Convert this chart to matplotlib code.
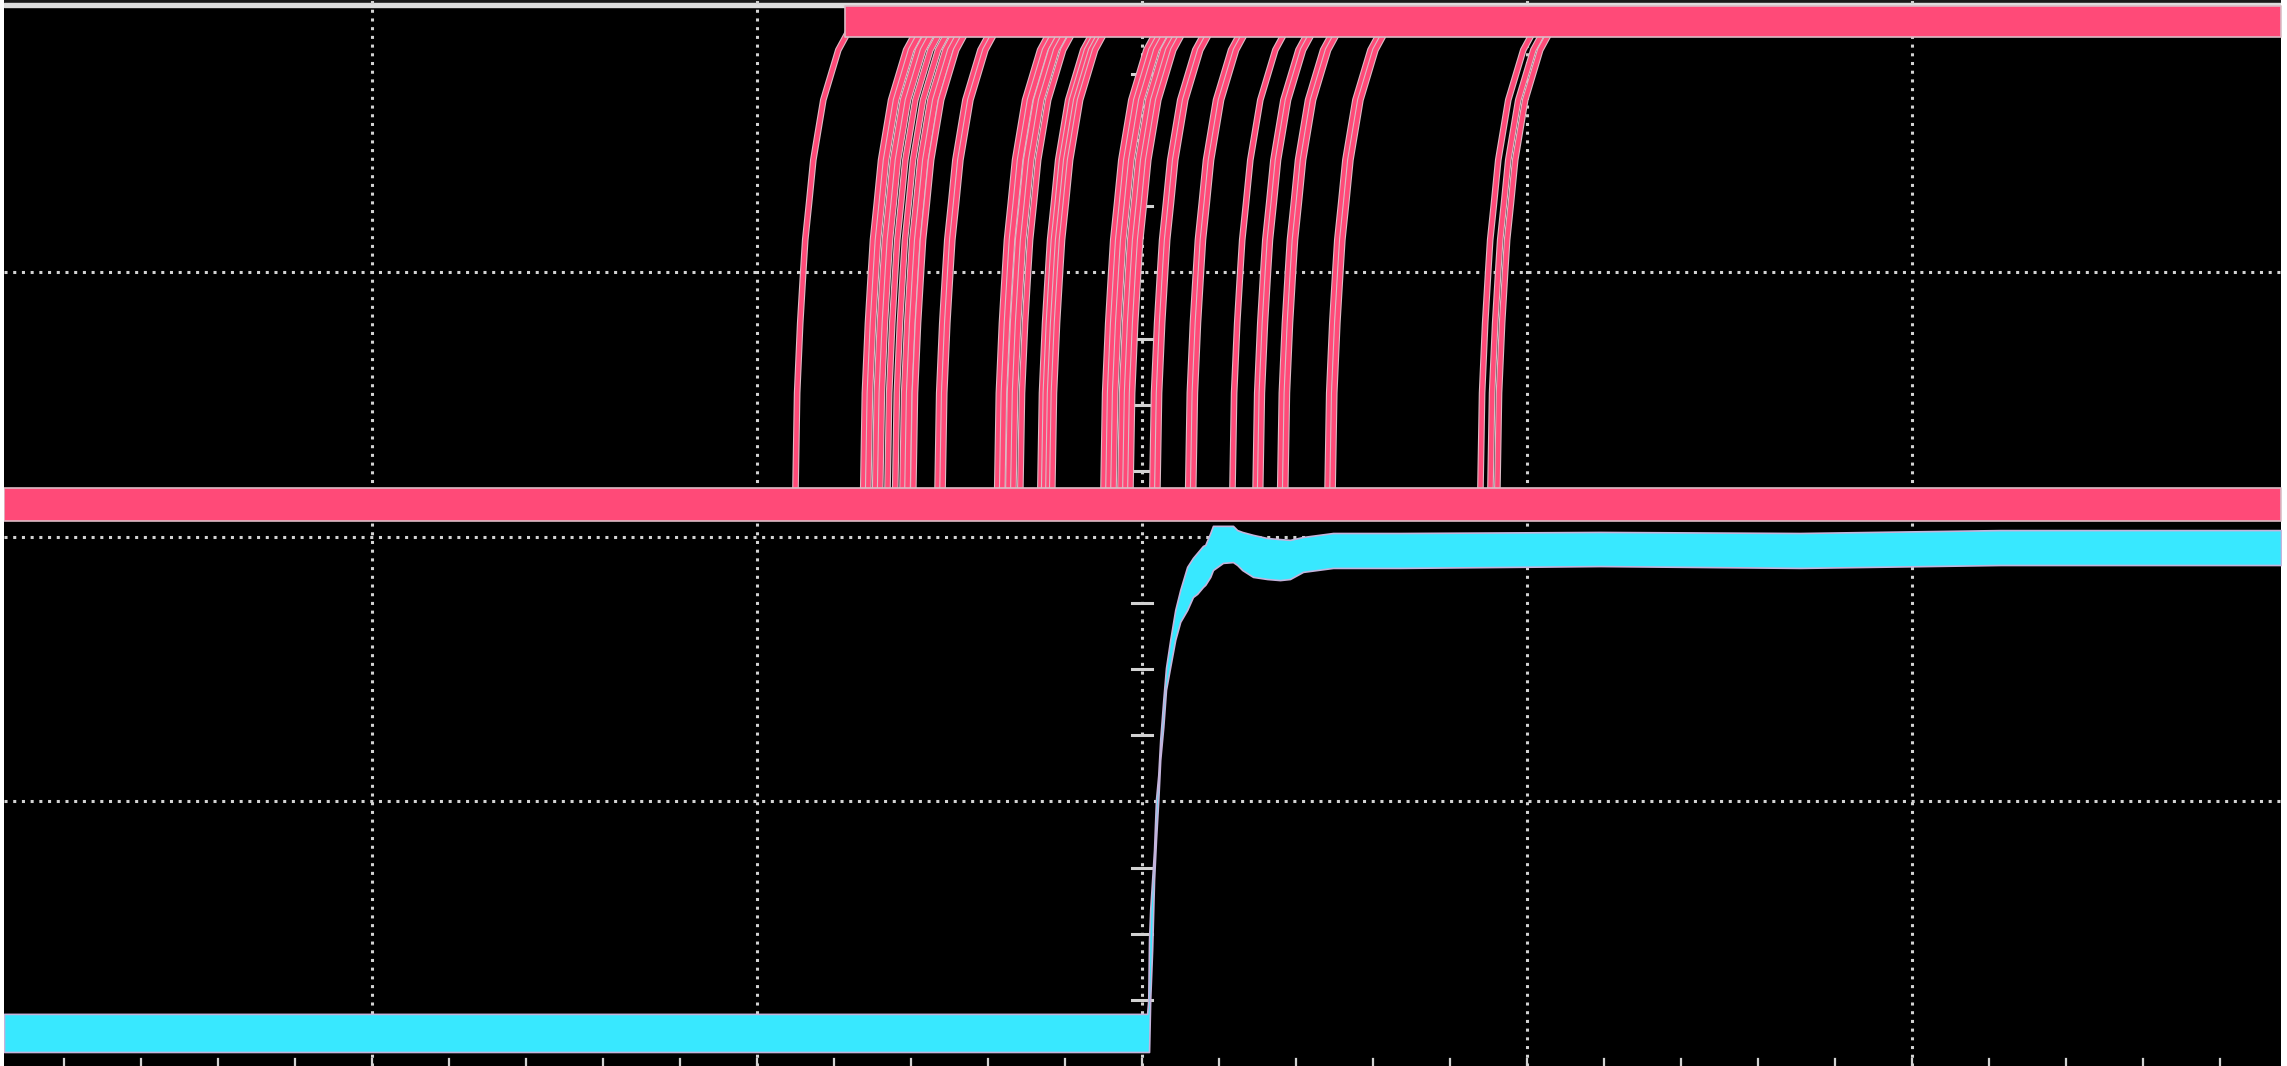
import matplotlib
matplotlib.use("Agg")
import matplotlib.pyplot as plt
import matplotlib.patheffects as pe

# screen units are scope divisions; x = 0 is the centre graticule line
X_LEFT, X_RIGHT = -2.956, 2.958
Y_TOP = 4.030

PINK = "#ff4a78"
CYAN = "#38e8ff"
EDGE_PINK = "#dcbcc6"
EDGE_CYAN = "#c4b4dc"
GRID = "#d2d2d2"

# channel 2 (pink): where each persistence trace leaves the low level
trace_starts = [-0.901, -0.725, -0.712, -0.694, -0.681, -0.662, -0.642, -0.623,
                -0.610, -0.595, -0.532, -0.519, -0.377, -0.364, -0.348, -0.335,
                -0.317, -0.265, -0.255, -0.244, -0.234, -0.101, -0.088, -0.075,
                -0.057, -0.044, -0.031, 0.026, 0.039, 0.119, 0.132, 0.234, 0.294,
                0.306, 0.358, 0.371, 0.481, 0.494, 0.878, 0.904, 0.922]
# shape of one rising edge (time after start, level)
rise_dt = [0.0, 0.005, 0.013, 0.021, 0.026, 0.036, 0.047, 0.073, 0.112, 0.143, 0.169]
rise_lv = [2.121, 2.544, 2.809, 3.006, 3.123, 3.263, 3.425, 3.652, 3.841, 3.924, 3.955]

pink_low = (2.061, 2.185)
pink_high = (3.890, 4.008)
pink_high_start = -0.771

# channel 1 (cyan) step response, upper and lower edge of the noisy trace
cyan_x = [-2.956, 0.013, 0.016, 0.018, 0.021, 0.026, 0.031, 0.036, 0.042, 0.047,
          0.055, 0.062, 0.073, 0.086, 0.099, 0.117, 0.132, 0.143, 0.158, 0.164,
          0.177, 0.184, 0.210, 0.236, 0.247, 0.260, 0.288, 0.325, 0.358, 0.384,
          0.418, 0.496, 0.522, 0.670, 1.190, 1.709, 2.229, 2.958]
cyan_top = [0.197, 0.197, 0.250, 0.476, 0.590, 0.703, 0.817, 1.006, 1.100, 1.233,
            1.384, 1.505, 1.611, 1.724, 1.800, 1.887, 1.921, 1.940, 1.966, 1.970,
            2.015, 2.042, 2.042, 2.042, 2.026, 2.019, 2.008, 1.996, 1.992, 1.989,
            2.000, 2.015, 2.015, 2.015, 2.019, 2.015, 2.026, 2.026]
cyan_bot = [0.053, 0.053, 0.053, 0.053, 0.250, 0.439, 0.703, 0.854, 1.006, 1.157,
            1.282, 1.422, 1.509, 1.611, 1.679, 1.724, 1.773, 1.785, 1.811, 1.819,
            1.849, 1.875, 1.902, 1.905, 1.894, 1.875, 1.849, 1.841, 1.837, 1.841,
            1.868, 1.883, 1.883, 1.883, 1.890, 1.883, 1.894, 1.894]

fig = plt.figure(figsize=(22.87, 10.66), dpi=100, facecolor="white")
ax = fig.add_axes([4 / 2287, 0, 2277 / 2287, 1])
ax.set_facecolor("black")
ax.set_xlim(X_LEFT, X_RIGHT)
ax.set_ylim(0, Y_TOP)
ax.set_xticks([])
ax.set_yticks([])
for s in ax.spines.values():
    s.set_visible(False)

# top border of the screen
ax.axhspan(4.020, Y_TOP, color="#1a1a1a", zorder=0)
ax.axhspan(4.004, 4.019, color="#dedede", zorder=0)

# dotted graticule
for gx in [-2, -1, 0, 1, 2]:
    ax.axvline(gx, color=GRID, lw=2.2, ls=(0, (1, 1.85)), zorder=1)
for gy in [1, 2, 3]:
    ax.axhline(gy, color=GRID, lw=2.2, ls=(0, (1, 1.85)), zorder=1)

# minor marks on the centre line and along the bottom edge
for k in range(1, 16):
    if k % 4:
        ax.plot([-0.026, 0.026], [k * 0.25, k * 0.25], color=GRID, lw=2.2, zorder=1)
for k in range(-14, 15):
    ax.plot([k * 0.2, k * 0.2], [0, 0.028], color=GRID, lw=1.6, zorder=1)

# pink persistence traces
outline = [pe.Stroke(linewidth=4.8, foreground=EDGE_PINK), pe.Normal()]
for x0 in trace_starts:
    xs = [x0 + d for d in rise_dt] + [X_RIGHT]
    ys = rise_lv + [rise_lv[-1]]
    ax.plot(xs, ys, color=PINK, lw=3.2, zorder=3, path_effects=outline,
            solid_joinstyle="miter")

ax.fill_between([X_LEFT, X_RIGHT], pink_low[0], pink_low[1], facecolor=PINK,
                edgecolor=EDGE_PINK, lw=1.2, zorder=4)
ax.fill_between([pink_high_start, X_RIGHT], pink_high[0], pink_high[1], facecolor=PINK,
                edgecolor=EDGE_PINK, lw=1.2, zorder=4)

# cyan step
ax.fill_between(cyan_x, cyan_bot, cyan_top, facecolor=CYAN, edgecolor=EDGE_CYAN,
                lw=1.2, zorder=5)

fig.savefig("out.png", dpi=100, facecolor="white")
